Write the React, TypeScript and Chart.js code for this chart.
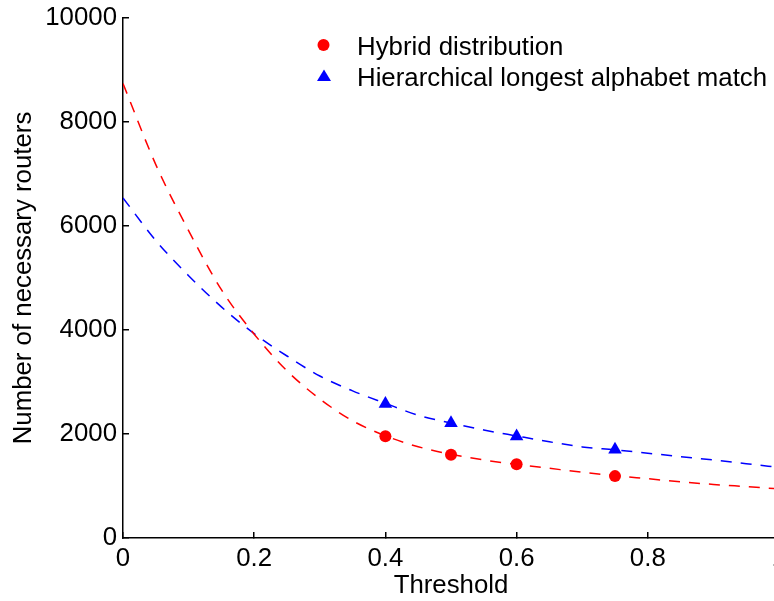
import React, { useEffect, useRef } from "react";
import { Chart, registerables } from "chart.js";

Chart.register(...registerables);

// ---- data ----
const seriesNames = ["Hybrid distribution", "Hierarchical longest alphabet match"];
const thresholds = [0.4, 0.5, 0.6, 0.75];
const hybridValues = [1956, 1600, 1420, 1190];
const hierarchicalValues = [2580, 2210, 1955, 1700];

// dashed fitted curves
const curveX = [0, 0.05, 0.1, 0.15, 0.2, 0.25, 0.3, 0.35, 0.4, 0.45, 0.5, 0.55, 0.6, 0.65, 0.7, 0.75, 0.8, 0.85, 0.9, 0.95, 1.0];
const hybridCurve = [8740, 7180, 5910, 4775, 3920, 3215, 2675, 2255, 1965, 1755, 1610, 1500, 1415, 1340, 1265, 1200, 1140, 1080, 1030, 988, 945];
const hierarchicalCurve = [6540, 5720, 5045, 4445, 3930, 3500, 3115, 2830, 2590, 2360, 2212, 2077, 1962, 1850, 1752, 1695, 1630, 1565, 1500, 1430, 1358];

const xTickLabels = ["0", "0.2", "0.4", "0.6", "0.8", "1"];
const yTickLabels = ["0", "2000", "4000", "6000", "8000", "10000"];
const xTitle = "Threshold";
const yTitle = "Number of necessary routers";

const RED = "#ff0000";
const BLUE = "#0000ff";
const FONT = "'Liberation Sans', Arial, Helvetica, sans-serif";
const FS = 25.8;

const legendPlugin = {
  id: "insideLegend",
  afterDraw(chart: any) {
    const ctx = chart.ctx as CanvasRenderingContext2D;
    ctx.save();
    // circle marker
    ctx.fillStyle = RED;
    ctx.beginPath();
    ctx.arc(323.5, 45, 6, 0, Math.PI * 2);
    ctx.fill();
    // triangle marker
    ctx.fillStyle = BLUE;
    ctx.beginPath();
    ctx.moveTo(324, 69.5);
    ctx.lineTo(331, 81);
    ctx.lineTo(317, 81);
    ctx.closePath();
    ctx.fill();
    ctx.fillStyle = "#000";
    ctx.font = `${FS}px ${FONT}`;
    ctx.textAlign = "left";
    ctx.textBaseline = "alphabetic";
    ctx.fillText(seriesNames[0], 357, 55);
    ctx.fillText(seriesNames[1], 357, 85.5);
    ctx.restore();
  },
};

export default function App() {
  const ref = useRef<HTMLCanvasElement | null>(null);

  useEffect(() => {
    if (!ref.current) return;
    const chart = new Chart(ref.current, {
      type: "scatter",
      data: {
        datasets: [
          {
            label: seriesNames[0],
            data: thresholds.map((x, i) => ({ x, y: hybridValues[i] })),
            pointStyle: "circle",
            pointRadius: 6,
            backgroundColor: RED,
            borderColor: RED,
            borderWidth: 0,
            showLine: false,
          },
          {
            label: seriesNames[1],
            data: thresholds.map((x, i) => ({ x, y: hierarchicalValues[i] })),
            pointStyle: "triangle",
            pointRadius: 7.8,
            backgroundColor: BLUE,
            borderColor: BLUE,
            borderWidth: 0,
            showLine: false,
          },
          {
            label: "hybrid fit",
            data: curveX.map((x, i) => ({ x, y: hybridCurve[i] })),
            showLine: true,
            pointRadius: 0,
            borderColor: RED,
            borderWidth: 1.5,
            borderDash: [11, 9],
            cubicInterpolationMode: "monotone",
            fill: false,
          },
          {
            label: "hierarchical fit",
            data: curveX.map((x, i) => ({ x, y: hierarchicalCurve[i] })),
            showLine: true,
            pointRadius: 0,
            borderColor: BLUE,
            borderWidth: 1.5,
            borderDash: [11, 9],
            cubicInterpolationMode: "monotone",
            fill: false,
          },
        ],
      } as any,
      options: {
        responsive: false,
        animation: false,
        devicePixelRatio: 1,
        layout: { padding: { top: 18, right: 21, left: 0, bottom: 0 } },
        plugins: {
          legend: { display: false },
          tooltip: { enabled: false },
        },
        scales: {
          x: {
            type: "linear",
            min: 0,
            max: 1,
            afterFit: (s: any) => {
              s.height = 63;
            },
            afterBuildTicks: (s: any) => {
              s.ticks = xTickLabels.map((t) => ({ value: Number(t) }));
            },
            ticks: {
              color: "#000",
              font: { family: FONT, size: FS },
              padding: 11.5,
              maxRotation: 0,
              autoSkip: false,
              callback: (_v: any, i: number) => xTickLabels[i],
            },
            grid: {
              drawOnChartArea: false,
              drawTicks: true,
              tickLength: -6,
              color: "#000",
              lineWidth: 1.5,
            },
            border: { display: true, color: "#000", width: 1.5 },
            title: {
              display: true,
              text: xTitle,
              color: "#000",
              font: { family: FONT, size: FS },
              padding: { top: 0, bottom: 0 },
            },
          },
          y: {
            type: "linear",
            min: 0,
            max: 10000,
            afterFit: (s: any) => {
              s.width = 123;
              s.paddingTop = 0;
              s.paddingBottom = 0;
            },
            afterBuildTicks: (s: any) => {
              s.ticks = yTickLabels.map((t) => ({ value: Number(t) }));
            },
            ticks: {
              color: "#000",
              font: { family: FONT, size: FS, lineHeight: 0.6 },
              padding: 12,
              autoSkip: false,
              callback: (_v: any, i: number) => yTickLabels[i],
            },
            grid: {
              drawOnChartArea: false,
              drawTicks: true,
              tickLength: -6,
              color: "#000",
              lineWidth: 1.5,
            },
            border: { display: true, color: "#000", width: 1.5 },
            title: {
              display: true,
              text: yTitle,
              color: "#000",
              font: { family: FONT, size: FS },
              padding: { top: 8, bottom: 0 },
            },
          },
        },
      } as any,
      plugins: [legendPlugin],
    });
    return () => chart.destroy();
  }, []);

  return (
    <div
      style={{
        position: "fixed",
        left: 0,
        top: 0,
        width: 774,
        height: 601,
        overflow: "hidden",
        background: "#fff",
      }}
    >
      <canvas ref={ref} width={800} height={601} style={{ width: 800, height: 601, display: "block" }} />
    </div>
  );
}
